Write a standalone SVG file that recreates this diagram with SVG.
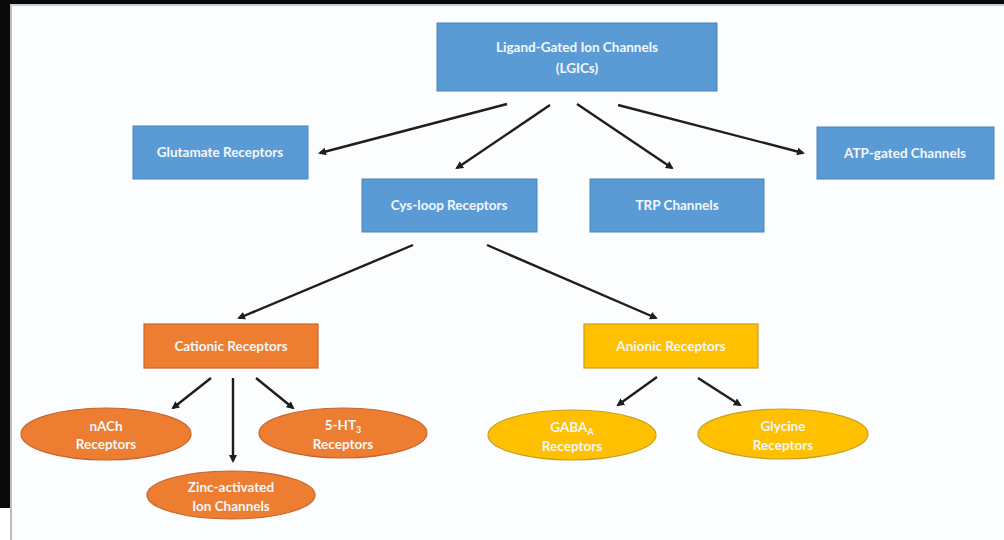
<svg xmlns="http://www.w3.org/2000/svg" width="1004" height="540" viewBox="0 0 1004 540">
<defs>
<marker id="ah" markerWidth="8" markerHeight="8" refX="6" refY="4" orient="auto" markerUnits="userSpaceOnUse">
<path d="M0,0 L8,4 L0,8 Z" fill="#1e1e1e"/>
</marker>
<style>
.box{fill:#5b9bd5;stroke:#4a82b8;stroke-width:1}
.org{fill:#ed7d31;stroke:#c8652a;stroke-width:1.2}
.yel{fill:#ffc000;stroke:#c9a020;stroke-width:1.2}
.t{font-family:Lato,"Liberation Sans",sans-serif;font-size:13.5px;font-weight:bold;fill:#f4f7fb;text-anchor:middle}
.c{stroke:#1e1e1e;stroke-width:2.4;fill:none;marker-end:url(#ah)}
</style>
</defs>
<rect x="0" y="0" width="1004" height="540" fill="#fbfdff"/>
<rect x="0" y="0" width="1004" height="4" fill="#0a0a0a"/>
<rect x="0" y="4" width="1004" height="2" fill="#c8cdd2"/>
<rect x="0" y="0" width="10" height="508" fill="#0a0a0a"/>
<rect x="0" y="508" width="10" height="32" fill="#ffffff"/>
<rect x="10" y="6" width="2" height="534" fill="#b8bec4"/>

<g id="connectors">
<line class="c" x1="507" y1="104" x2="320" y2="153"/>
<line class="c" x1="550" y1="105" x2="457" y2="168"/>
<line class="c" x1="577" y1="104" x2="672" y2="168"/>
<line class="c" x1="618" y1="105" x2="803" y2="153"/>
<line class="c" x1="413" y1="245" x2="239" y2="318"/>
<line class="c" x1="487" y1="245" x2="656" y2="318"/>
<line class="c" x1="211" y1="378" x2="173" y2="408"/>
<line class="c" x1="233" y1="378" x2="233" y2="461"/>
<line class="c" x1="256" y1="378" x2="293" y2="408"/>
<line class="c" x1="657" y1="377" x2="618" y2="405"/>
<line class="c" x1="698" y1="378" x2="740" y2="405"/>
</g>

<g id="lgic">
<rect class="box" x="437" y="23" width="280" height="68"/>
<text class="t" x="577" y="52">Ligand-Gated Ion Channels</text>
<text class="t" x="577" y="73">(LGICs)</text>
</g>
<g id="glutamate">
<rect class="box" x="133" y="126" width="175" height="53"/>
<text class="t" x="220" y="157">Glutamate Receptors</text>
</g>
<g id="atp">
<rect class="box" x="817" y="127" width="177" height="52"/>
<text class="t" x="905" y="158">ATP-gated Channels</text>
</g>
<g id="cysloop">
<rect class="box" x="362" y="179" width="175" height="53"/>
<text class="t" x="449" y="210">Cys-loop Receptors</text>
</g>
<g id="trp">
<rect class="box" x="590" y="179" width="174" height="53"/>
<text class="t" x="677" y="210">TRP Channels</text>
</g>
<g id="cationic">
<rect class="org" x="144" y="324" width="174" height="44"/>
<text class="t" x="231" y="351">Cationic Receptors</text>
</g>
<g id="anionic">
<rect class="yel" x="584" y="324" width="174" height="44"/>
<text class="t" x="671" y="351">Anionic Receptors</text>
</g>
<g id="nach">
<ellipse class="org" cx="106" cy="434" rx="85" ry="26"/>
<text class="t" x="106" y="431">nACh</text>
<text class="t" x="106" y="449">Receptors</text>
</g>
<g id="zinc">
<ellipse class="org" cx="231" cy="495" rx="84" ry="24"/>
<text class="t" x="231" y="492">Zinc-activated</text>
<text class="t" x="231" y="511">Ion Channels</text>
</g>
<g id="ht3">
<ellipse class="org" cx="343" cy="433" rx="84" ry="25"/>
<text class="t" x="343" y="430">5-HT<tspan font-size="9" dy="3">3</tspan></text>
<text class="t" x="343" y="449">Receptors</text>
</g>
<g id="gaba">
<ellipse class="yel" cx="572" cy="435" rx="84" ry="25"/>
<text class="t" x="572" y="432">GABA<tspan font-size="9" dy="3">A</tspan></text>
<text class="t" x="572" y="451">Receptors</text>
</g>
<g id="glycine">
<ellipse class="yel" cx="783" cy="434" rx="85" ry="25"/>
<text class="t" x="783" y="431">Glycine</text>
<text class="t" x="783" y="450">Receptors</text>
</g>
</svg>
